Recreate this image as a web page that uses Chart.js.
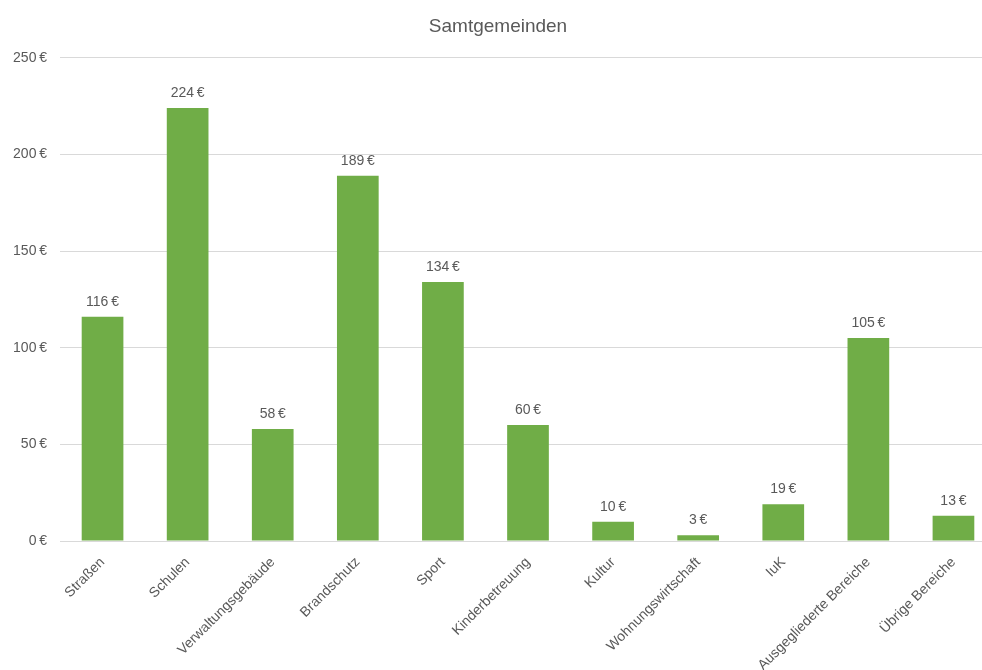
<!DOCTYPE html>
<html>
<head>
<meta charset="utf-8">
<script src="https://cdn.jsdelivr.net/npm/chart.js@4/dist/chart.umd.min.js"></script>
<style>
  html, body { margin: 0; padding: 0; background: #fff; overflow: hidden; }
  #wrap { width: 996px; height: 670px; position: relative; }
</style>
</head>
<body>
<div id="wrap"><canvas id="c"></canvas></div>
<script>
const categories = ["Straßen", "Schulen", "Verwaltungsgebäude", "Brandschutz", "Sport", "Kinderbetreuung", "Kultur", "Wohnungswirtschaft", "IuK", "Ausgegliederte Bereiche", "Übrige Bereiche"];
const values = [116, 224, 58, 189, 134, 60, 10, 3, 19, 105, 13];
const yTicks = [0, 50, 100, 150, 200, 250];
const chartTitle = "Samtgemeinden";

const FONT = "'Liberation Sans', Arial, sans-serif";
const GRAY = "#595959";

const valueLabels = {
  id: 'valueLabels',
  afterDatasetsDraw(chart) {
    const ctx = chart.ctx;
    const meta = chart.getDatasetMeta(0);
    ctx.save();
    ctx.font = "14px " + FONT;
    ctx.fillStyle = GRAY;
    ctx.textAlign = 'center';
    ctx.textBaseline = 'middle';
    meta.data.forEach((bar, i) => {
      ctx.fillText(values[i] + "\u2009€", bar.x, bar.y - 15);
    });
    ctx.restore();
  }
};

new Chart(document.getElementById('c'), {
  type: 'bar',
  data: {
    labels: categories,
    datasets: [{
      data: values,
      backgroundColor: '#70AD47',
      borderWidth: 0,
      barPercentage: 0.49,
      categoryPercentage: 1.0
    }]
  },
  options: {
    responsive: true,
    maintainAspectRatio: false,
    animation: false,
    layout: { padding: { left: 0, right: 0, top: 0, bottom: 0 } },
    plugins: {
      legend: { display: false },
      tooltip: { enabled: false },
      title: {
        display: true,
        text: chartTitle,
        color: GRAY,
        font: { family: FONT, size: 19, weight: 'normal' },
        padding: { top: 15, bottom: 20 }
      }
    },
    scales: {
      x: {
        grid: { display: false, drawTicks: false },
        border: { display: false },
        ticks: {
          color: GRAY,
          font: { family: FONT, size: 14 },
          minRotation: 45,
          maxRotation: 45,
          autoSkip: false,
          padding: 13
        },
        afterFit(scale) { scale.height = 129; }
      },
      y: {
        min: 0,
        max: 250,
        afterBuildTicks(scale) { scale.ticks = yTicks.map(v => ({ value: v })); },
        grid: { color: '#D9D9D9', lineWidth: 1, drawTicks: false },
        border: { display: false },
        ticks: {
          color: GRAY,
          font: { family: FONT, size: 14 },
          padding: 13,
          callback: v => v + "\u2009€"
        },
        afterFit(scale) { scale.width = 60; }
      }
    }
  },
  plugins: [valueLabels]
});
</script>
</body>
</html>
